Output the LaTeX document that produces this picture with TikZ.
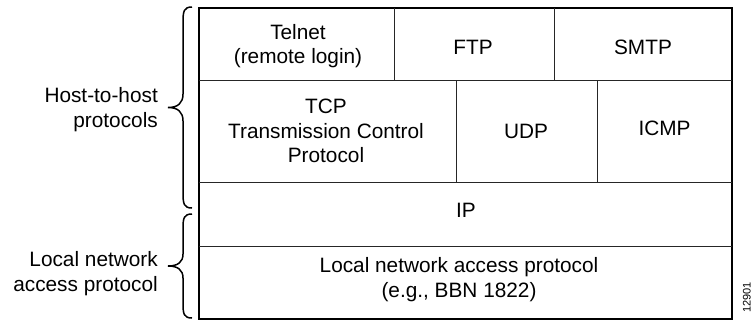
\documentclass[tikz,border=0pt]{standalone}
\usepackage{fontspec}
\setmainfont{Liberation Sans}
\begin{document}
\begin{tikzpicture}[x=1pt, y=-1pt,
  outer/.style={line width=1.8pt, black},
  inner/.style={line width=0.9pt, black!85},
  cell/.style={inner sep=0pt, align=center, font=\fontsize{20.8}{24.5}\selectfont},
  side/.style={inner sep=0pt, align=right, anchor=east, font=\fontsize{20.8}{24.5}\selectfont},
  bracestroke/.style={line width=1.5pt, black}]
\useasboundingbox (0,0) rectangle (752,322);

% protocol stack frame
\draw[outer] (199,8) rectangle (732,319);
% row separators
\draw[inner] (199,80) -- (732,80);
\draw[inner] (199,182) -- (732,182);
\draw[inner] (199,246) -- (732,246);
% column separators
\draw[inner] (394,8) -- (394,80);
\draw[inner] (554,8) -- (554,80);
\draw[inner] (456,80) -- (456,182);
\draw[inner] (597,80) -- (597,182);

% cell labels
\node[cell] (telnet) at (298,46) {Telnet\\(remote login)};
\node[cell] (ftp) at (473,47) {FTP};
\node[cell] (smtp) at (643,47) {SMTP};
\node[cell] (tcp) at (326,131) {TCP\\Transmission Control\\Protocol};
\node[cell] (udp) at (526,131) {UDP};
\node[cell] (icmp) at (664.5,128.5) {ICMP};
\node[cell] (ip) at (466,210.5) {IP};
\node[cell] (lnap) at (459,279.5) {Local network access protocol\\(e.g., BBN 1822)};

% braces
\draw[bracestroke] (192,7) .. controls (184,7) and (183,11) .. (183,22)
  -- (183,94) .. controls (183,103) and (178,107.5) .. (168,107.5)
  .. controls (178,107.5) and (183,112) .. (183,121)
  -- (183,193) .. controls (183,204) and (184,208) .. (192,208);
\draw[bracestroke] (192,214) .. controls (184,214) and (183,218) .. (183,228)
  -- (183,254) .. controls (183,262) and (178,266) .. (168,266)
  .. controls (178,266) and (183,270) .. (183,278)
  -- (183,304) .. controls (183,314) and (184,318) .. (192,318);

% side labels
\node[side] (hth) at (158,109.5) {Host-to-host\\protocols};
\node[side] (lna) at (158,273.8) {Local network\\access protocol};

% figure number
\node[inner sep=0pt, rotate=90, anchor=base west, font=\fontsize{11}{13}\selectfont] (fignum) at (750.5,313) {12901};
\end{tikzpicture}
\end{document}
